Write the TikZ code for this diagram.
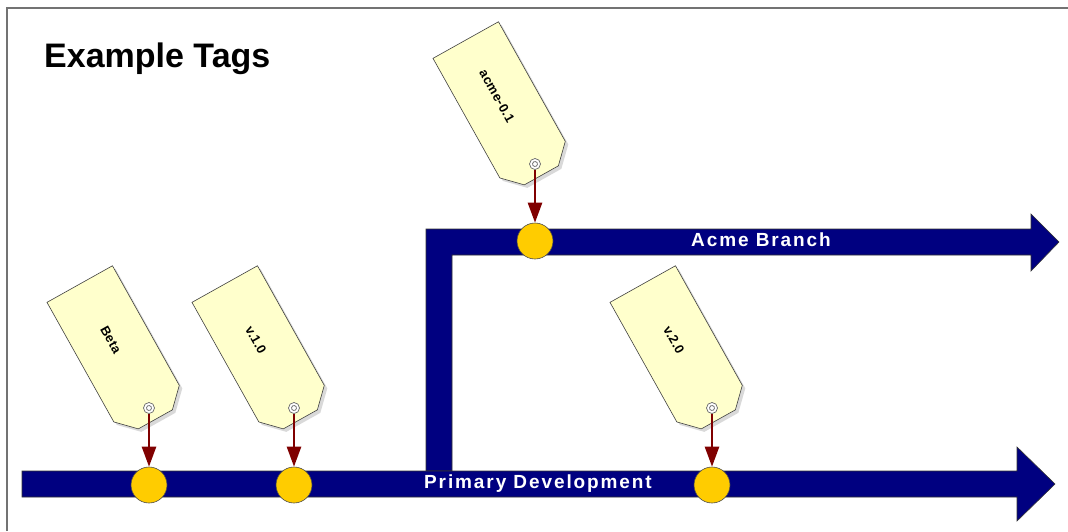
\documentclass[tikz,border=0pt]{standalone}
\usepackage{fontspec}
\setmainfont{Liberation Sans}
\newfontfamily\barfont[LetterSpace=10]{Liberation Sans}
\newfontfamily\tagfont[LetterSpace=3]{Liberation Sans}
\usetikzlibrary{arrows.meta}
\definecolor{navybar}{RGB}{0,0,128}
\definecolor{tagfill}{RGB}{255,255,204}
\definecolor{dotfill}{RGB}{255,204,0}
\definecolor{pinred}{RGB}{128,0,0}
\tikzset{
 bar/.style={fill=navybar, draw=black!80, line width=0.6pt},
 commit/.style={circle, fill=dotfill, draw=black!70, line width=0.6pt, minimum size=36pt, inner sep=0pt},
 pin/.style={draw=pinred, line width=2.5pt, -{Triangle[length=20pt,width=14pt]}},
 tagshape/.style={fill=tagfill, draw=black!75, line width=0.6pt},
 tagshadow/.style={fill=black, opacity=0.15},
 barlabel/.style={text=white, anchor=base, inner sep=0pt, font=\barfont\bfseries\fontsize{19}{21}\selectfont},
 taglabel/.style={font=\tagfont\bfseries\fontsize{13}{15}\selectfont, text=black, inner sep=0pt},
 hole/.style={circle, draw=black!60, fill=white, minimum size=11pt, inner sep=0pt, line width=0.7pt},
 frameline/.style={draw=black!55, line width=1.5pt},
}
\newcommand\tagat[4]{%
 \begin{scope}[shift={(#2+3,-#3-3)}, rotate=-60.8]
  \fill[tagshadow] (-142,-37.5) -- (-142,37.5) -- (-5,37.5) -- (13,19.5) -- (13,-19.5) -- (-5,-37.5) -- cycle;
 \end{scope}
 \begin{scope}[shift={(#2,-#3)}, rotate=-60.8]
  \draw[tagshape] (-142,-37.5) -- (-142,37.5) -- (-5,37.5) -- (13,19.5) -- (13,-19.5) -- (-5,-37.5) -- cycle;
  \node[taglabel, rotate=-60.8] (#1-text) at (-78,0) {#4};
  \node[hole] (#1-hole) at (0,0) {};
  \draw[black!60, line width=0.7pt] (0,0) circle (2.5);
 \end{scope}}
\begin{document}
\begin{tikzpicture}[x=1pt,y=1pt]
\useasboundingbox (0,0) rectangle (1068,-531);
\fill[white] (0,0) rectangle (1068,-531);
\draw[frameline] (7,-531) -- (7,-8) -- (1068,-8);
\node[anchor=base west, inner sep=0pt, font=\bfseries\fontsize{34}{40}\selectfont] (title) at (44,-67) {Example Tags};
% branch bar (drawn first, behind main bar)
\draw[bar] (426,-471) -- (426,-229) -- (1031,-229) -- (1031,-214) -- (1059,-242) -- (1031,-271) -- (1031,-255) -- (452,-255) -- (452,-471) -- cycle;
% main bar
\draw[bar] (22,-471) -- (1017,-471) -- (1017,-447) -- (1055,-484) -- (1017,-521) -- (1017,-497) -- (22,-497) -- cycle;
\node[barlabel] (acmelabel) at (761,-246) {Acme Branch};
\node[barlabel] (mainlabel) at (538,-488) {Primary Development};
% commits
\node[commit] (c1) at (149,-485) {};
\node[commit] (c2) at (294,-485) {};
\node[commit] (c3) at (535,-241) {};
\node[commit] (c4) at (712,-485) {};
% tags
\tagat{beta}{149}{408}{Beta}
\tagat{v1}{294}{408}{v.1.0}
\tagat{acme}{535}{164}{acme-0.1}
\tagat{v2}{712}{408}{v.2.0}
% pins
\draw[pin] (beta-hole.south) -- (c1.north);
\draw[pin] (v1-hole.south) -- (c2.north);
\draw[pin] (acme-hole.south) -- (c3.north);
\draw[pin] (v2-hole.south) -- (c4.north);
\end{tikzpicture}
\end{document}
